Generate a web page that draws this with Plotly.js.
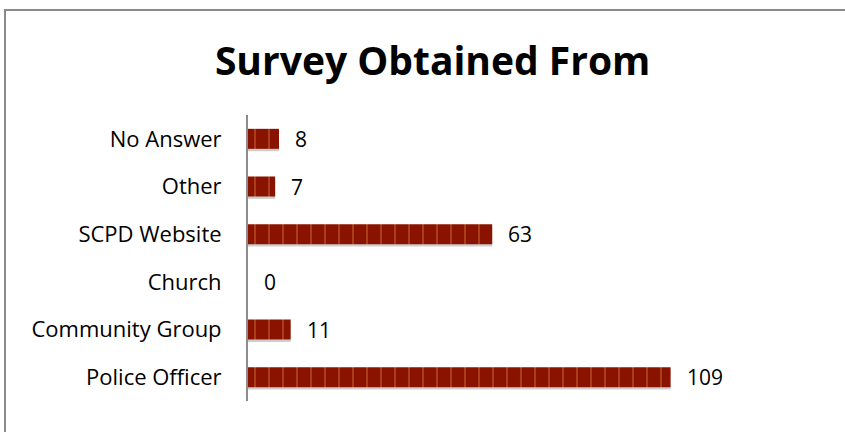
<!DOCTYPE html>
<html>
<head>
<meta charset="utf-8">
<script src="https://cdn.plot.ly/plotly-3.0.1.min.js"></script>
<style>
  html, body { margin: 0; padding: 0; background: #fff; }
  #wrap { position: relative; width: 845px; height: 432px; overflow: hidden; }
  #chart { position: absolute; left: 0; top: 0; width: 845px; height: 432px; }
  #frame { position: absolute; left: 4px; top: 9px; width: 900px; height: 500px;
           border-left: 2px solid #8a8a8a; border-top: 2px solid #8a8a8a; pointer-events: none; }
</style>
</head>
<body>
<div id="wrap">
  <div id="chart"></div>
  <div id="frame"></div>
</div>
<script>
// Data (bottom to top as drawn)
const categories = ["Police Officer", "Community Group", "Church", "SCPD Website", "Other", "No Answer"];
const counts = [109, 11, 0, 63, 7, 8];
const chartTitle = "Survey Obtained From";

const barColor = "#8a1300";
const stripeColor = "#a9401a";
const font = "Open Sans, Noto Sans, sans-serif";

const shadow = {
  type: "bar", orientation: "h",
  x: counts, y: categories,
  width: 0.42, offset: -0.26,
  marker: { color: "rgba(90,90,90,0.3)", line: { width: 0 } },
  hoverinfo: "skip", showlegend: false
};

const bars = {
  type: "bar", orientation: "h",
  x: counts, y: categories,
  width: 0.42,
  marker: {
    color: barColor,
    line: { width: 0 },
    pattern: { shape: "|", fgcolor: stripeColor, bgcolor: barColor, size: 14, solidity: 0.14 }
  },
  showlegend: false
};

const annotations = categories.map((c, i) => ({
  x: counts[i], y: c, xref: "x", yref: "y",
  text: String(counts[i]), showarrow: false,
  xanchor: "left", yanchor: "middle", xshift: 14,
  font: { family: font, size: 21, color: "#000" }
}));

const layout = {
  width: 845, height: 432,
  margin: { l: 248, r: 93, t: 115, b: 31 },
  paper_bgcolor: "#fff", plot_bgcolor: "#fff",
  barmode: "overlay",
  title: {
    text: "<b>" + chartTitle + "</b>",
    font: { family: font, size: 39, color: "#000" },
    x: 0.512, xanchor: "center", y: 0.858, yanchor: "middle"
  },
  xaxis: { range: [0, 130], visible: false, fixedrange: true },
  yaxis: {
    type: "category",
    showline: true, linecolor: "#8c8c8c", linewidth: 2,
    showgrid: false, zeroline: false, ticks: "",
    ticklabelstandoff: 20,
    tickfont: { family: font, size: 22, color: "#000" },
    range: [-0.5, 5.5]
  },
  annotations: annotations,
  font: { family: font }
};

Plotly.newPlot("chart", [shadow, bars], layout, { displayModeBar: false, staticPlot: true });
</script>
</body>
</html>
